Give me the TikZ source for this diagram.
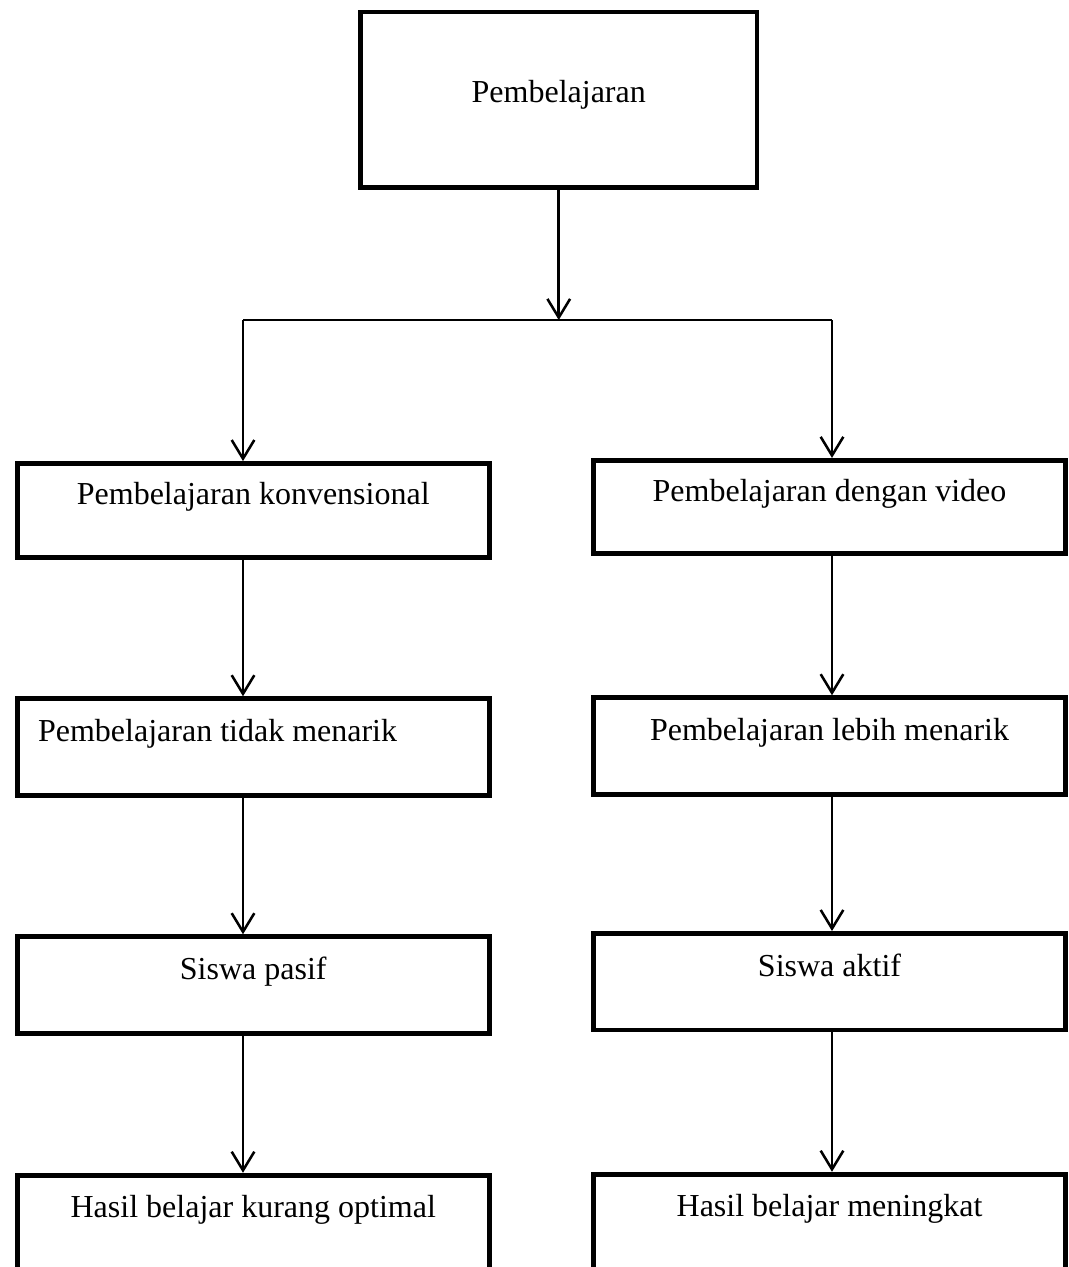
\documentclass[tikz,border=0pt]{standalone}
\usepackage{fontspec}
\setmainfont{Liberation Serif}
\usetikzlibrary{arrows.meta,calc}

\begin{document}
\begin{tikzpicture}[x=0.75pt,y=0.75pt,yscale=-1,xscale=1,
  flowbox/.style={draw, line width=3.6pt, inner sep=0pt, minimum width=354pt, minimum height=72.5pt,
    text height=30.5pt, text depth=39pt, font=\fontsize{24pt}{29pt}\selectfont},
  flowarrow/.style={line width=1.9pt, -{Straight Barb[length=14pt,width=17pt]}}]
\useasboundingbox (0,0) rectangle (1068,1267);
\clip (0,0) rectangle (1068,1267);

%Shape: Rectangle
\node (pemb) at (558.75,99.75) [flowbox, minimum width=297.4pt, minimum height=131.6pt, text height=67.5pt, text depth=64pt] {Pembelajaran};

%Shape: Rectangle (left column)
\node (konv) at (253.25,510.5) [flowbox, minimum height=70.5pt] {Pembelajaran konvensional};
\node (tidak) at (253.25,747) [flowbox] {Pembelajaran tidak menarik\hspace*{53.5pt}};
\node (pasif) at (253.25,985) [flowbox] {Siswa pasif};
\node (kurang) at (253.25,1223.5) [flowbox] {Hasil belajar kurang optimal};

%Shape: Rectangle (right column)
\node (video) at (829.5,507) [flowbox, minimum height=70pt] {Pembelajaran dengan video};
\node (lebih) at (829.5,746) [flowbox] {Pembelajaran lebih menarik};
\node (aktif) at (829.5,981.75) [flowbox] {Siswa aktif};
\node (naik) at (829.5,1222.5) [flowbox] {Hasil belajar meningkat};

\coordinate (split) at (558.75,320);
\coordinate (brL) at (243,320);
\coordinate (brR) at (832,320);

%Straight Lines
\draw [flowarrow] (pemb) -- (split);
\draw [line width=1.9pt] (brL) -- (brR);
\draw [flowarrow] (brL) -- (brL |- konv.north);
\draw [flowarrow] (brR) -- (brR |- video.north);

%Straight Lines (left column)
\draw [flowarrow] (brL |- konv.south) -- (brL |- tidak.north);
\draw [flowarrow] (brL |- tidak.south) -- (brL |- pasif.north);
\draw [flowarrow] (brL |- pasif.south) -- (brL |- kurang.north);

%Straight Lines (right column)
\draw [flowarrow] (brR |- video.south) -- (brR |- lebih.north);
\draw [flowarrow] (brR |- lebih.south) -- (brR |- aktif.north);
\draw [flowarrow] (brR |- aktif.south) -- (brR |- naik.north);
\end{tikzpicture}
\end{document}
